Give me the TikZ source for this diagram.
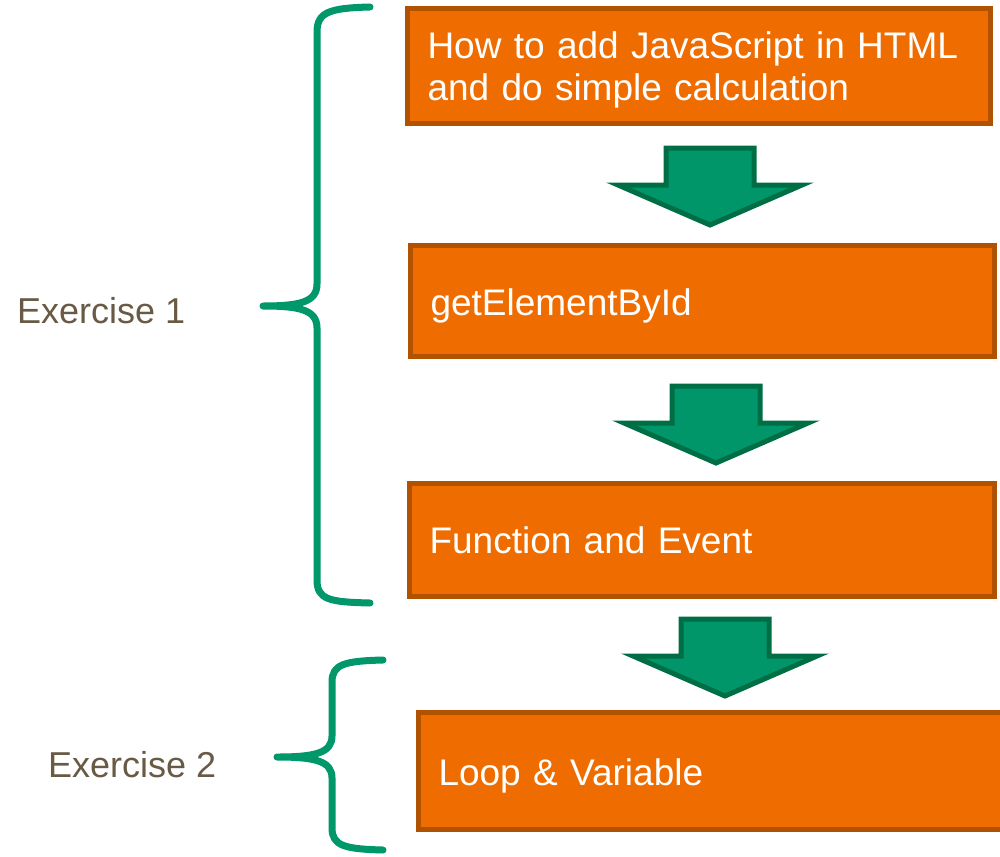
\documentclass[tikz,border=0pt]{standalone}
\usepackage{fontspec}
\setmainfont{Liberation Sans}
\definecolor{boxfill}{HTML}{EE6C00}
\definecolor{boxline}{HTML}{B05200}
\definecolor{arrfill}{HTML}{009669}
\definecolor{arrline}{HTML}{006E45}
\definecolor{bracecol}{HTML}{00976A}
\definecolor{labelcol}{HTML}{685A44}
\begin{document}
\begin{tikzpicture}[x=1pt,y=-1pt,
  stepbox/.style={draw=boxline, fill=boxfill, line width=5pt, rectangle,
    text=white, align=left, inner xsep=20pt, inner ysep=0pt,
    font=\fontsize{37}{42}\selectfont},
  exlabel/.style={text=labelcol, anchor=base west, inner sep=0pt,
    font=\fontsize{36}{42}\selectfont},
  bracestyle/.style={draw=bracecol, line width=7pt, line cap=round, line join=round},
  arrowstyle/.style={draw=arrline, fill=arrfill, line width=5pt, line join=miter},
  blockarrow/.pic={\path[arrowstyle] (-44,0) -- (44,0) -- (44,37) -- (92,37) -- (0,77) -- (-92,37) -- (-44,37) -- cycle;}
]
\useasboundingbox (0,0) rectangle (1000,856);

% boxes
\node[stepbox, minimum width=583pt, minimum height=115pt, text width=543pt] (b1) at (699,66)
  {\rule{0pt}{34pt}How to add JavaScript in HTML\\and do simple calculation};
\node[stepbox, minimum width=584pt, minimum height=111pt, text width=544pt] (b2) at (702.5,300.5)
  {\rule{0pt}{37pt}getElementById};
\node[stepbox, minimum width=585pt, minimum height=113pt, text width=545pt] (b3) at (702,540)
  {Function and Event};
\node[stepbox, minimum width=585pt, minimum height=117pt, text width=545pt] (b4) at (711,771)
  {\rule{0pt}{36pt}Loop \& Variable};

% block arrows
\pic at (710,148) {blockarrow};
\pic at (716,386) {blockarrow};
\pic at (725,619) {blockarrow};

% braces
\coordinate (br1top) at (370,7);
\coordinate (br1tip) at (263,306);
\coordinate (br1bot) at (370,603);
\draw[bracestyle] (br1top) .. controls (330,8) and (317,12) .. (317,32)
  -- (317,284) .. controls (317,302) and (300,306) .. (br1tip)
  .. controls (300,306) and (317,310) .. (317,328)
  -- (317,580) .. controls (317,600) and (330,602) .. (br1bot);

\coordinate (br2top) at (383,660);
\coordinate (br2tip) at (277,757);
\coordinate (br2bot) at (383,850);
\draw[bracestyle] (br2top) .. controls (345,661) and (332,664) .. (332,682)
  -- (332,736) .. controls (332,753) and (315,757) .. (br2tip)
  .. controls (315,757) and (332,761) .. (332,778)
  -- (332,828) .. controls (332,846) and (345,849) .. (br2bot);

% labels
\node[exlabel] (ex1) at (17,323) {Exercise 1};
\node[exlabel] (ex2) at (48,777) {Exercise 2};
\end{tikzpicture}
\end{document}
